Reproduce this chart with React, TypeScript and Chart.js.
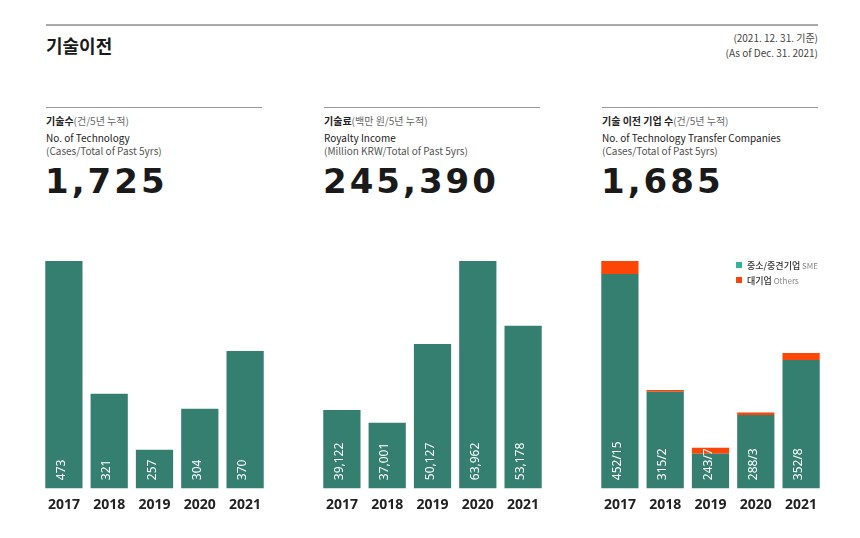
import React, { useEffect, useRef } from "react";
import { Chart, registerables } from "chart.js";

Chart.register(...registerables);

const years = ["2017", "2018", "2019", "2020", "2021"];
const techCount = [473, 321, 257, 304, 370];
const royalty = [39122, 37001, 50127, 63962, 53178];
const smeCompanies = [452, 315, 243, 288, 352];
const otherCompanies = [15, 2, 7, 3, 8];

const TEAL = "#357f70";
const ORANGE = "#fc4607";
const KR = "'Noto Sans CJK KR', 'Noto Sans', sans-serif";

const labelPlugin = (labels: string[]) => ({
  id: "barLabels",
  afterDatasetsDraw(chart: any) {
    const ctx = chart.ctx;
    const meta = chart.getDatasetMeta(0);
    const bottom = chart.chartArea.bottom;
    ctx.save();
    ctx.fillStyle = "#ffffff";
    ctx.font = "12px 'Noto Sans', sans-serif";
    ctx.textAlign = "left";
    ctx.textBaseline = "alphabetic";
    meta.data.forEach((bar: any, i: number) => {
      ctx.save();
      ctx.translate(bar.x + 1, bottom - 8);
      ctx.rotate(-Math.PI / 2);
      ctx.fillText(labels[i], 0, 0);
      ctx.restore();
    });
    ctx.restore();
  },
});

function BarChart({ datasets, labels, min, max, stacked, left }: any) {
  const ref = useRef<HTMLCanvasElement>(null);
  useEffect(() => {
    if (!ref.current) return;
    const chart = new Chart(ref.current, {
      type: "bar",
      data: {
        labels: years,
        datasets: datasets.map((d: any) => ({
          data: d.data,
          backgroundColor: d.color,
          borderWidth: 0,
          barPercentage: 0.822,
          categoryPercentage: 1,
        })),
      },
      options: {
        responsive: false,
        animation: false,
        events: [],
        layout: { padding: { top: 11, bottom: 0, left: 0, right: 0 } },
        plugins: { legend: { display: false }, tooltip: { enabled: false } },
        scales: {
          x: {
            stacked: !!stacked,
            grid: { display: false, drawTicks: false },
            border: { display: false },
            ticks: {
              padding: 8,
              color: "#222",
              font: { family: "'Noto Sans', sans-serif", size: 14, weight: "bold" },
            },
          },
          y: { display: false, stacked: !!stacked, min, max },
        },
      },
      plugins: [labelPlugin(labels)],
    });
    return () => chart.destroy();
  }, []);
  return (
    <canvas
      ref={ref}
      width={229}
      height={271}
      style={{ position: "absolute", left, top: 250, width: 229, height: 271 }}
    />
  );
}

function Header({ left, bold, rest, en1, en2, big }: any) {
  return (
    <>
      <div style={{ position: "absolute", left, top: 107, width: 216, height: 1, background: "#999" }} />
      <div style={{ position: "absolute", left, top: 114, fontFamily: KR, fontSize: 10, lineHeight: "14px", whiteSpace: "nowrap", color: "#666" }}>
        <span style={{ fontWeight: 700, color: "#222" }}>{bold}</span>
        {rest}
      </div>
      <div style={{ position: "absolute", left, top: 131, fontFamily: KR, fontSize: 10, lineHeight: "14px", whiteSpace: "nowrap", color: "#222" }}>{en1}</div>
      <div style={{ position: "absolute", left, top: 144, fontFamily: KR, fontSize: 10, lineHeight: "14px", whiteSpace: "nowrap", color: "#555" }}>{en2}</div>
      <div style={{ position: "absolute", left: left - 1, top: 164, fontFamily: "'DejaVu Sans', sans-serif", fontWeight: 700, fontSize: 34, letterSpacing: 3, lineHeight: "34px", whiteSpace: "nowrap", color: "#1a1a1a" }}>{big}</div>
    </>
  );
}

export default function App() {
  const fmt = (v: number) => v.toLocaleString("en-US");
  return (
    <div style={{ position: "absolute", left: 0, top: 0, width: 860, height: 538, background: "#fff", overflow: "hidden" }}>
      <div style={{ position: "absolute", left: 46, top: 24, width: 772, height: 2, background: "#aaa" }} />
      <div style={{ position: "absolute", left: 46, top: 33, fontFamily: KR, fontWeight: 700, fontSize: 18, lineHeight: "24px", color: "#1a1a1a" }}>기술이전</div>
      <div style={{ position: "absolute", right: 42, top: 31, fontFamily: KR, fontSize: 10, lineHeight: "14px", color: "#444", textAlign: "right", whiteSpace: "nowrap" }}>(2021. 12. 31. 기준)</div>
      <div style={{ position: "absolute", right: 42, top: 46, fontFamily: KR, fontSize: 10, lineHeight: "14px", color: "#444", textAlign: "right", whiteSpace: "nowrap" }}>(As of Dec. 31. 2021)</div>

      <Header left={46} bold="기술수" rest="(건/5년 누적)" en1="No. of Technology" en2="(Cases/Total of Past 5yrs)" big="1,725" />
      <Header left={324} bold="기술료" rest="(백만 원/5년 누적)" en1="Royalty Income" en2="(Million KRW/Total of Past 5yrs)" big="245,390" />
      <Header left={602} bold="기술 이전 기업 수" rest="(건/5년 누적)" en1="No. of Technology Transfer Companies" en2="(Cases/Total of Past 5yrs)" big="1,685" />

      <BarChart left={40} min={213} max={473} datasets={[{ data: techCount, color: TEAL }]} labels={techCount.map(fmt)} />
      <BarChart left={318} min={26100} max={63962} datasets={[{ data: royalty, color: TEAL }]} labels={royalty.map(fmt)} />
      <BarChart
        left={596}
        min={203}
        max={467}
        stacked
        datasets={[
          { data: smeCompanies, color: TEAL },
          { data: otherCompanies, color: ORANGE },
        ]}
        labels={smeCompanies.map((v, i) => `${v}/${otherCompanies[i]}`)}
      />

      <div style={{ position: "absolute", left: 736, top: 262, width: 6, height: 6, background: "#2fb59a" }} />
      <div style={{ position: "absolute", left: 747, top: 259, fontFamily: KR, fontSize: 9, lineHeight: "14px", whiteSpace: "nowrap", color: "#333" }}>
        <span style={{ fontWeight: 500 }}>중소/중견기업</span>
        <span style={{ color: "#888", fontSize: 8 }}> SME</span>
      </div>
      <div style={{ position: "absolute", left: 736, top: 277, width: 6, height: 6, background: ORANGE }} />
      <div style={{ position: "absolute", left: 747, top: 274, fontFamily: KR, fontSize: 9, lineHeight: "14px", whiteSpace: "nowrap", color: "#333" }}>
        <span style={{ fontWeight: 500 }}>대기업</span>
        <span style={{ color: "#888", fontSize: 8 }}> Others</span>
      </div>
    </div>
  );
}
